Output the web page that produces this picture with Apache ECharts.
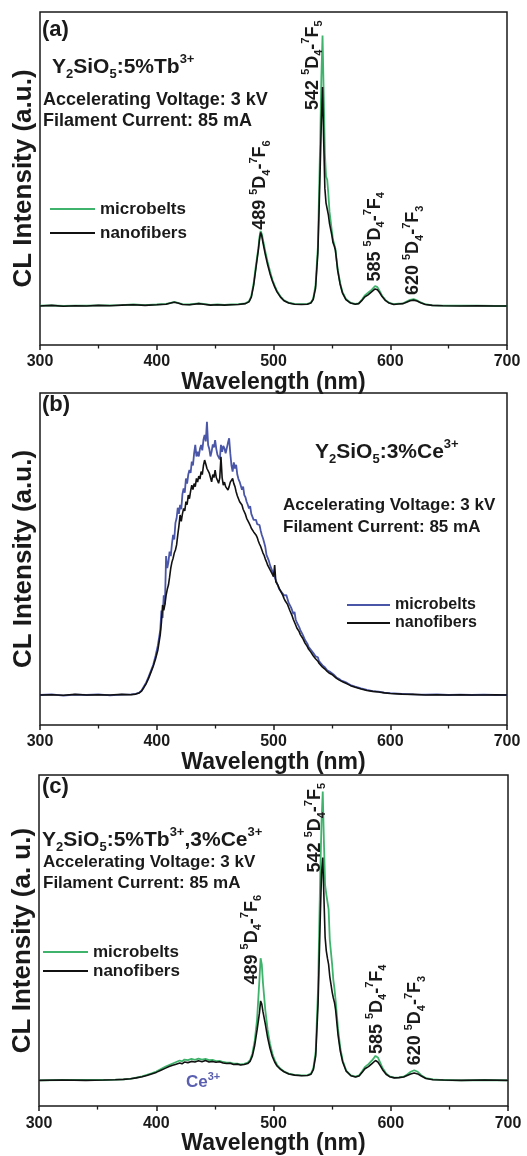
<!DOCTYPE html>
<html><head><meta charset="utf-8">
<script src="https://cdn.jsdelivr.net/npm/echarts@6/dist/echarts.min.js"></script>
<style>html,body{margin:0;padding:0;background:#fff}#c{width:527px;height:1156px}</style>
</head><body><div id="c"></div>
<script>
// ---------- data (wavelength nm, relative CL intensity) ----------
const xTicks = [300, 400, 500, 600, 700];
const seriesNames = ['microbelts', 'nanofibers'];

const aNano = [[300,0.000],[310,0.002],[320,-0.001],[330,0.001],[340,0.000],[350,0.002],[360,0.001],[370,0.003],[380,0.004],[390,0.002],[400,0.004],[408,0.006],[412,0.010],[415,0.013],[418,0.010],[422,0.005],[428,0.004],[432,0.006],[436,0.008],[440,0.006],[446,0.003],[452,0.004],[458,0.003],[464,0.004],[470,0.005],[476,0.008],[479,0.014],[481,0.030],[483,0.070],[485,0.130],[487,0.190],[488,0.225],[489,0.250],[490,0.238],[491,0.215],[493,0.175],[495,0.140],[497,0.110],[499,0.085],[501,0.065],[503,0.048],[506,0.030],[509,0.018],[513,0.010],[518,0.006],[524,0.005],[529,0.006],[532,0.010],[534,0.022],[536,0.060],[538,0.180],[539,0.320],[540,0.470],[541,0.630],[542,0.745],[543,0.560],[544,0.400],[545,0.350],[546,0.330],[547,0.310],[548,0.280],[550,0.240],[551,0.215],[552,0.205],[553,0.190],[555,0.120],[557,0.075],[559,0.045],[562,0.022],[566,0.010],[570,0.006],[573,0.008],[576,0.020],[578,0.030],[581,0.038],[584,0.048],[587,0.058],[589,0.055],[591,0.045],[593,0.032],[596,0.018],[599,0.010],[603,0.005],[607,0.007],[611,0.008],[614,0.013],[617,0.018],[620,0.020],[623,0.017],[626,0.011],[630,0.005],[636,0.002],[645,0.001],[660,0.000],[675,0.001],[690,0.000],[700,0.000]];
const aMicro = [[300,0.001],[310,0.002],[320,0.000],[330,0.001],[340,0.001],[350,0.002],[360,0.002],[370,0.003],[380,0.005],[390,0.003],[400,0.005],[408,0.007],[412,0.011],[415,0.014],[418,0.011],[422,0.006],[428,0.005],[432,0.007],[436,0.009],[440,0.007],[446,0.004],[452,0.005],[458,0.004],[464,0.005],[470,0.006],[476,0.009],[479,0.016],[481,0.034],[483,0.078],[485,0.140],[487,0.195],[488,0.235],[489,0.255],[490,0.245],[491,0.225],[493,0.185],[495,0.150],[497,0.118],[499,0.090],[501,0.069],[503,0.051],[506,0.032],[509,0.019],[513,0.011],[518,0.007],[524,0.006],[529,0.007],[532,0.011],[534,0.025],[536,0.070],[538,0.200],[539,0.380],[540,0.560],[541,0.780],[542,0.920],[543,0.720],[544,0.520],[545,0.440],[546,0.430],[547,0.380],[548,0.320],[550,0.255],[551,0.225],[552,0.210],[553,0.195],[555,0.125],[557,0.080],[559,0.048],[562,0.024],[566,0.011],[570,0.007],[573,0.009],[576,0.023],[578,0.035],[581,0.045],[584,0.055],[587,0.068],[589,0.064],[591,0.050],[593,0.035],[596,0.020],[599,0.011],[603,0.006],[607,0.008],[611,0.009],[614,0.015],[617,0.021],[620,0.023],[623,0.019],[626,0.012],[630,0.006],[636,0.002],[645,0.001],[660,0.001],[675,0.001],[690,0.000],[700,0.000]];

const bMicro = [[300,0.000],[310,0.002],[320,-0.002],[330,0.001],[340,0.000],[350,0.002],[360,-0.001],[370,0.001],[378,0.002],[382,0.004],[385,0.008],[387,0.015],[389,0.028],[391,0.042],[393,0.060],[395,0.080],[397,0.100],[399,0.130],[401,0.165],[403,0.215],[404,0.280],[405,0.255],[406,0.330],[407,0.300],[408,0.460],[409,0.420],[410,0.440],[411,0.475],[412,0.460],[413,0.500],[414,0.530],[415,0.515],[416,0.570],[417,0.585],[418,0.620],[419,0.600],[420,0.630],[421,0.615],[422,0.665],[423,0.684],[424,0.670],[425,0.717],[426,0.700],[427,0.730],[428,0.745],[429,0.735],[430,0.773],[431,0.760],[432,0.800],[433,0.828],[434,0.790],[435,0.806],[436,0.790],[437,0.815],[438,0.828],[439,0.810],[440,0.845],[441,0.861],[442,0.840],[443,0.905],[444,0.828],[445,0.815],[446,0.790],[447,0.806],[448,0.830],[449,0.820],[450,0.844],[451,0.815],[452,0.795],[453,0.800],[454,0.780],[455,0.828],[456,0.805],[457,0.825],[458,0.817],[459,0.800],[460,0.795],[461,0.835],[462,0.850],[463,0.800],[464,0.760],[465,0.740],[466,0.770],[467,0.750],[468,0.762],[469,0.730],[470,0.715],[471,0.706],[472,0.700],[473,0.680],[474,0.690],[475,0.662],[476,0.655],[477,0.640],[478,0.630],[479,0.618],[480,0.625],[481,0.600],[482,0.590],[483,0.580],[484,0.574],[485,0.580],[486,0.566],[487,0.570],[488,0.563],[489,0.545],[490,0.530],[491,0.519],[492,0.505],[493,0.490],[494,0.464],[495,0.470],[496,0.445],[497,0.430],[498,0.420],[499,0.410],[500,0.400],[501,0.395],[502,0.380],[503,0.370],[504,0.364],[505,0.350],[506,0.355],[507,0.340],[508,0.345],[509,0.330],[510,0.335],[511,0.331],[512,0.318],[513,0.305],[514,0.310],[515,0.290],[516,0.280],[517,0.268],[518,0.275],[519,0.250],[520,0.240],[521,0.245],[522,0.225],[523,0.215],[524,0.220],[525,0.200],[526,0.195],[527,0.182],[528,0.188],[529,0.170],[530,0.160],[531,0.165],[532,0.150],[533,0.148],[534,0.140],[535,0.142],[536,0.128],[537,0.122],[538,0.125],[539,0.112],[540,0.108],[542,0.098],[544,0.092],[546,0.082],[548,0.078],[550,0.072],[552,0.066],[554,0.058],[556,0.054],[558,0.048],[560,0.045],[563,0.040],[566,0.033],[570,0.028],[575,0.022],[580,0.017],[585,0.013],[590,0.011],[595,0.008],[600,0.006],[610,0.004],[620,0.002],[630,0.001],[640,0.002],[650,0.000],[660,0.001],[670,0.000],[680,0.001],[690,0.000],[700,0.000]];
const bNano = [[300,0.000],[310,0.001],[320,-0.001],[330,0.002],[340,0.000],[350,0.001],[360,0.000],[370,0.002],[378,0.001],[382,0.003],[385,0.007],[387,0.013],[389,0.025],[391,0.038],[393,0.055],[395,0.075],[397,0.095],[399,0.120],[401,0.150],[403,0.200],[404,0.240],[405,0.298],[406,0.280],[407,0.300],[408,0.330],[409,0.350],[410,0.364],[411,0.390],[412,0.420],[413,0.440],[414,0.453],[415,0.470],[416,0.480],[417,0.497],[418,0.530],[419,0.560],[420,0.596],[421,0.575],[422,0.600],[423,0.618],[424,0.610],[425,0.640],[426,0.630],[427,0.662],[428,0.650],[429,0.675],[430,0.695],[431,0.680],[432,0.700],[433,0.690],[434,0.717],[435,0.705],[436,0.725],[437,0.715],[438,0.740],[439,0.730],[440,0.760],[441,0.778],[442,0.765],[443,0.750],[444,0.756],[445,0.735],[446,0.720],[447,0.706],[448,0.730],[449,0.720],[450,0.745],[451,0.720],[452,0.715],[453,0.701],[454,0.720],[455,0.789],[456,0.720],[457,0.695],[458,0.705],[459,0.690],[460,0.685],[461,0.679],[462,0.690],[463,0.705],[464,0.700],[465,0.717],[466,0.700],[467,0.690],[468,0.673],[469,0.660],[470,0.650],[471,0.640],[472,0.635],[473,0.629],[474,0.615],[475,0.610],[476,0.598],[477,0.585],[478,0.580],[479,0.570],[480,0.562],[481,0.552],[482,0.548],[483,0.540],[484,0.535],[485,0.530],[486,0.522],[487,0.510],[488,0.500],[489,0.492],[490,0.486],[491,0.470],[492,0.462],[493,0.450],[494,0.441],[495,0.430],[496,0.425],[497,0.415],[498,0.408],[499,0.400],[500,0.392],[501,0.430],[502,0.375],[503,0.380],[504,0.362],[505,0.352],[506,0.345],[507,0.342],[508,0.330],[509,0.320],[510,0.312],[511,0.309],[512,0.300],[513,0.290],[514,0.280],[515,0.275],[516,0.262],[517,0.250],[518,0.245],[519,0.232],[520,0.222],[521,0.225],[522,0.210],[523,0.200],[524,0.205],[525,0.188],[526,0.180],[527,0.172],[528,0.175],[529,0.160],[530,0.152],[531,0.155],[532,0.142],[533,0.138],[534,0.130],[535,0.132],[536,0.120],[537,0.115],[538,0.112],[539,0.105],[540,0.100],[542,0.092],[544,0.086],[546,0.078],[548,0.072],[550,0.068],[552,0.062],[554,0.055],[556,0.050],[558,0.046],[560,0.042],[563,0.037],[566,0.031],[570,0.026],[575,0.020],[580,0.015],[585,0.012],[590,0.010],[595,0.007],[600,0.005],[610,0.003],[620,0.002],[630,0.000],[640,0.001],[650,0.000],[660,0.001],[670,0.000],[680,0.000],[690,0.001],[700,0.000]];

const cNano = [[300,0.000],[320,0.001],[340,0.000],[355,0.001],[365,0.002],[372,0.003],[378,0.005],[383,0.008],[388,0.012],[392,0.016],[396,0.021],[400,0.026],[404,0.033],[408,0.040],[411,0.045],[414,0.049],[417,0.053],[420,0.057],[422,0.054],[424,0.060],[427,0.058],[430,0.062],[433,0.060],[436,0.064],[439,0.061],[442,0.065],[445,0.060],[448,0.062],[451,0.059],[454,0.061],[457,0.057],[460,0.055],[463,0.056],[466,0.052],[469,0.053],[472,0.050],[475,0.052],[478,0.055],[480,0.062],[482,0.080],[484,0.115],[486,0.165],[488,0.220],[489,0.260],[490,0.250],[491,0.225],[493,0.185],[495,0.140],[497,0.105],[499,0.078],[501,0.060],[503,0.047],[506,0.036],[509,0.028],[513,0.021],[518,0.017],[524,0.015],[529,0.016],[532,0.020],[534,0.035],[536,0.080],[538,0.250],[539,0.400],[540,0.550],[541,0.680],[542,0.730],[543,0.600],[544,0.470],[545,0.425],[546,0.400],[547,0.380],[548,0.340],[550,0.290],[551,0.270],[552,0.255],[553,0.230],[555,0.150],[557,0.095],[559,0.060],[562,0.030],[566,0.015],[570,0.011],[573,0.014],[576,0.028],[578,0.038],[581,0.045],[584,0.055],[587,0.065],[589,0.060],[591,0.048],[593,0.035],[596,0.020],[599,0.012],[603,0.008],[607,0.009],[611,0.011],[614,0.016],[617,0.021],[620,0.024],[623,0.021],[626,0.014],[630,0.006],[636,0.002],[645,0.001],[660,0.000],[680,0.001],[700,0.000]];
const cMicro = [[300,0.000],[320,0.001],[340,0.001],[355,0.001],[365,0.002],[372,0.003],[378,0.005],[383,0.009],[388,0.013],[392,0.018],[396,0.023],[400,0.029],[404,0.037],[408,0.045],[411,0.050],[414,0.055],[417,0.060],[420,0.065],[422,0.062],[424,0.068],[427,0.066],[430,0.070],[433,0.067],[436,0.071],[439,0.068],[442,0.070],[445,0.066],[448,0.067],[451,0.063],[454,0.064],[457,0.060],[460,0.058],[463,0.058],[466,0.055],[469,0.055],[472,0.052],[475,0.054],[478,0.058],[480,0.066],[482,0.088],[484,0.130],[486,0.200],[488,0.330],[489,0.400],[490,0.380],[491,0.320],[493,0.230],[495,0.165],[497,0.120],[499,0.088],[501,0.066],[503,0.051],[506,0.038],[509,0.029],[513,0.022],[518,0.018],[524,0.016],[529,0.017],[532,0.022],[534,0.040],[536,0.095],[538,0.300],[539,0.500],[540,0.700],[541,0.850],[542,0.946],[543,0.780],[544,0.640],[545,0.610],[546,0.615],[547,0.560],[548,0.460],[550,0.380],[551,0.330],[552,0.300],[553,0.260],[555,0.170],[557,0.105],[559,0.065],[562,0.032],[566,0.016],[570,0.012],[573,0.016],[576,0.032],[578,0.044],[581,0.053],[584,0.065],[587,0.080],[589,0.075],[591,0.058],[593,0.040],[596,0.023],[599,0.013],[603,0.009],[607,0.010],[611,0.012],[614,0.019],[617,0.028],[620,0.033],[623,0.028],[626,0.017],[630,0.007],[636,0.003],[645,0.001],[660,0.000],[680,0.001],[700,0.000]];

// peak annotations: [wavelength anchor, intensity anchor, peak label, final J]
const annA = [[488.5, 0.259, '489', '6'], [533.8, 0.667, '542', '5'], [586.9, 0.083, '585', '4'], [619.8, 0.037, '620', '3']];
const annC = [[481.5, 0.314, '489', '6'], [535.6, 0.681, '542', '5'], [588.2, 0.086, '585', '4'], [620.9, 0.049, '620', '3']];

// ---------- styling ----------
const FF = '"Liberation Sans", Arial, Helvetica, sans-serif';
const GREEN = '#3fb36c', BLUE = '#4a56a8', BLACK = '#111111', INK = '#1a1a1a';
const grids = [
  {left: 40, top: 12, width: 467, height: 333},
  {left: 40, top: 393, width: 467, height: 332},
  {left: 39, top: 775, width: 469, height: 334}
];
const yMins = [-0.1327, -0.0993, -0.0844];
const yNames = ['CL Intensity (a.u.)', 'CL Intensity (a.u.)', 'CL Intensity (a. u.)'];
const panels = [[aMicro, aNano, GREEN], [bMicro, bNano, BLUE], [cMicro, cNano, GREEN]];

const chart = echarts.init(document.getElementById('c'), null, {renderer: 'canvas'});

const xAxes = grids.map((g, i) => ({
  type: 'value', gridIndex: i, min: xTicks[0], max: xTicks[xTicks.length - 1], interval: 100,
  position: 'bottom',
  axisLine: {show: false, onZero: false},
  axisTick: {show: true, inside: false, length: 5, lineStyle: {color: INK, width: 1.5}},
  minorTick: {show: true, splitNumber: 2, length: 3.5, lineStyle: {color: INK, width: 1.3}},
  splitLine: {show: false},
  axisLabel: {fontSize: 16, fontWeight: 'bold', fontFamily: FF, color: INK, margin: 9},
  name: 'Wavelength (nm)', nameLocation: 'middle', nameGap: 19,
  nameTextStyle: {fontSize: 23, fontWeight: 'bold', fontFamily: FF, color: INK}
}));
const yAxes = grids.map((g, i) => ({
  type: 'value', gridIndex: i, min: yMins[i], max: 1,
  axisLine: {show: false, onZero: false}, axisTick: {show: false}, axisLabel: {show: false}, splitLine: {show: false},
  name: yNames[i], nameLocation: 'middle', nameGap: 3,
  nameTextStyle: {fontSize: 26, fontWeight: 'bold', fontFamily: FF, color: INK}
}));
const series = [];
panels.forEach((p, i) => {
  series.push({name: seriesNames[0], type: 'line', xAxisIndex: i, yAxisIndex: i, data: p[0], showSymbol: false, symbol: 'none',
    lineStyle: {color: p[2], width: 1.8}, itemStyle: {color: p[2]}, z: 2});
  series.push({name: seriesNames[1], type: 'line', xAxisIndex: i, yAxisIndex: i, data: p[1], showSymbol: false, symbol: 'none',
    lineStyle: {color: BLACK, width: 1.6}, itemStyle: {color: BLACK}, z: 3});
});
function legendAt(left, top, w, fs, gap, col) {
  return {
    orient: 'vertical', left: left, top: top, padding: 0, itemWidth: w, itemHeight: 2, itemGap: gap, icon: 'rect',
    selectedMode: false,
    textStyle: {fontSize: fs, fontWeight: 'bold', fontFamily: FF, color: INK, padding: [0, 0, 0, 0]},
    data: [{name: seriesNames[0], itemStyle: {color: col}}, {name: seriesNames[1], itemStyle: {color: BLACK}}]
  };
}
chart.setOption({
  animation: false,
  backgroundColor: '#fff',
  grid: grids.map(g => Object.assign({show: true, borderColor: INK, borderWidth: 1.5, backgroundColor: 'transparent'}, g)),
  xAxis: xAxes, yAxis: yAxes, series: series,
  legend: [
    legendAt(50, 200.5, 45, 17, 7, GREEN),
    legendAt(347, 597, 43, 16, 2, BLUE),
    legendAt(43, 943.5, 45, 17, 2, GREEN)
  ]
});

// ---------- text annotations ----------
function richSet(F, color) {
  const base = {fontWeight: 'bold', fontFamily: FF, fill: color};
  const small = Math.round(F * 0.62);
  return {
    m: Object.assign({fontSize: F, lineHeight: Math.round(F * 1.32), verticalAlign: 'middle'}, base),
    s: Object.assign({fontSize: small, lineHeight: small, verticalAlign: 'bottom'}, base),
    p: Object.assign({fontSize: small, lineHeight: small, verticalAlign: 'top'}, base)
  };
}
function txt(x, y, text, F, opts) {
  opts = opts || {};
  const color = opts.color || INK;
  return {
    type: 'text', x: x, y: y, rotation: opts.rot || 0, silent: true, z: 100,
    style: {text: text, rich: richSet(F, color), fill: color, fontSize: F, fontWeight: 'bold', fontFamily: FF,
      align: 'left', verticalAlign: 'middle'}
  };
}
const elems = [];
// panel (a)
elems.push(txt(42, 30, '{m|(a)}', 22));
elems.push(txt(52, 67, '{m|Y}{s|2}{m|SiO}{s|5}{m|:5%Tb}{p|3+}', 21));
elems.push(txt(43, 100, '{m|Accelerating Voltage: 3 kV}', 18));
elems.push(txt(43, 121, '{m|Filament Current: 85 mA}', 18));
// panel (b)
elems.push(txt(42, 405, '{m|(b)}', 22));
elems.push(txt(315, 452, '{m|Y}{s|2}{m|SiO}{s|5}{m|:3%Ce}{p|3+}', 21));
elems.push(txt(283, 505, '{m|Accelerating Voltage: 3 kV}', 17));
elems.push(txt(283, 527, '{m|Filament Current: 85 mA}', 17));
// panel (c)
elems.push(txt(42, 787, '{m|(c)}', 22));
elems.push(txt(42, 840, '{m|Y}{s|2}{m|SiO}{s|5}{m|:5%Tb}{p|3+}{m|,3%Ce}{p|3+}', 21));
elems.push(txt(43, 862, '{m|Accelerating Voltage: 3 kV}', 17));
elems.push(txt(43, 883, '{m|Filament Current: 85 mA}', 17));
elems.push(txt(186, 1082, '{m|Ce}{p|3+}', 17, {color: '#5a5fb0'}));
// rotated peak labels anchored in data coordinates
[[annA, 0], [annC, 2]].forEach(([list, gi]) => {
  list.forEach(a => {
    const pt = chart.convertToPixel({gridIndex: gi}, [a[0], a[1]]);
    elems.push(txt(pt[0], pt[1], '{m|' + a[2] + ' }{p|5}{m|D}{s|4}{m|-}{p|7}{m|F}{s|' + a[3] + '}', 18, {rot: Math.PI / 2}));
  });
});
chart.setOption({graphic: {elements: elems}});
</script>
</body></html>
